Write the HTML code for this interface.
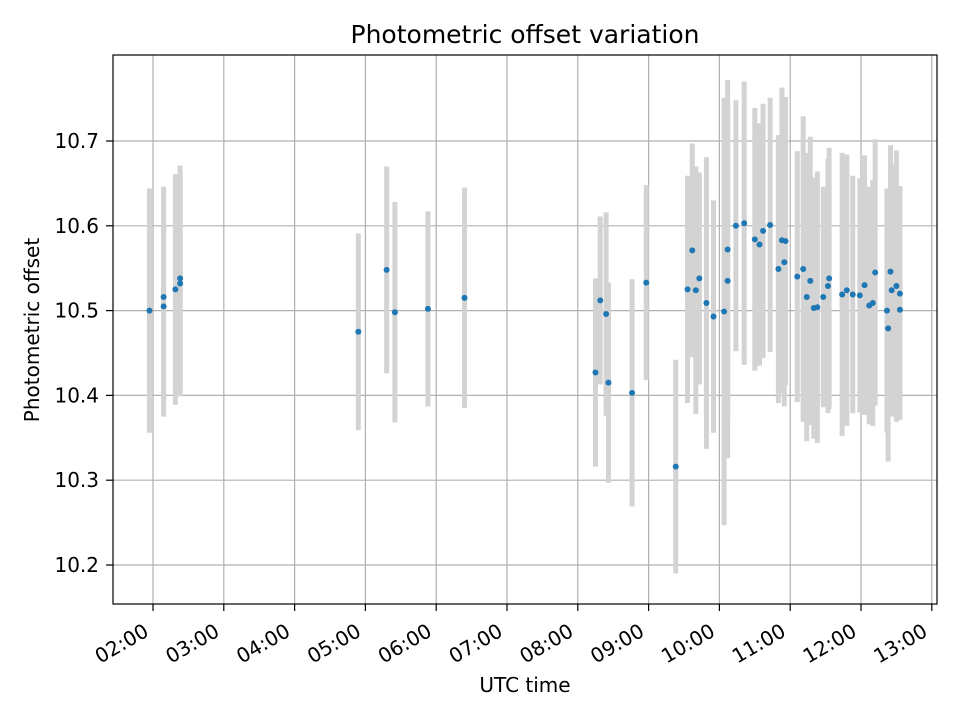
<!DOCTYPE html>
<html><head><meta charset="utf-8"><style>
body{margin:0;background:#fff;}
svg{font-family:"DejaVu Sans","Liberation Sans",sans-serif;}
</style></head><body>
<svg id="chart" width="960" height="720">
<rect width="960" height="720" fill="#fff"/>
<g id="grid"></g><g id="bars"></g><g id="pts"></g><g id="axes"></g>
<text x="525" y="43" text-anchor="middle" font-size="25">Photometric offset variation</text>
<text x="525" y="692" text-anchor="middle" font-size="20">UTC time</text>
<text transform="translate(39,330) rotate(-90)" text-anchor="middle" font-size="20">Photometric offset</text>
</svg>
<script>
const times=["01:57","02:09","02:09","02:19","02:23","02:23","04:54","05:18","05:25","05:53","06:24","08:15","08:19","08:24","08:26","08:46","08:58","09:23","09:33","09:37","09:40","09:43","09:49","09:55","10:04","10:07","10:07","10:14","10:21","10:30","10:34","10:37","10:43","10:50","10:53","10:55","10:56","11:06","11:11","11:14","11:17","11:20","11:23","11:28","11:32","11:33","11:44","11:48","11:53","11:59","12:03","12:07","12:10","12:12","12:22","12:23","12:25","12:26","12:30","12:33","12:33"];
const values=[10.500,10.516,10.505,10.525,10.538,10.532,10.475,10.548,10.498,10.502,10.515,10.427,10.512,10.496,10.415,10.403,10.533,10.316,10.525,10.571,10.524,10.538,10.509,10.493,10.499,10.535,10.572,10.600,10.603,10.584,10.578,10.594,10.601,10.549,10.583,10.557,10.582,10.540,10.549,10.516,10.535,10.503,10.504,10.516,10.529,10.538,10.519,10.524,10.519,10.518,10.530,10.506,10.509,10.545,10.500,10.479,10.546,10.524,10.529,10.520,10.501];
const errors=[0.144,0.13,0.13,0.136,0.133,0.133,0.116,0.122,0.13,0.115,0.13,0.111,0.099,0.12,0.118,0.134,0.115,0.126,0.134,0.126,0.146,0.125,0.172,0.137,0.252,0.209,0.2,0.148,0.167,0.155,0.143,0.15,0.15,0.158,0.18,0.17,0.17,0.148,0.18,0.17,0.17,0.154,0.16,0.13,0.15,0.154,0.167,0.16,0.14,0.138,0.153,0.14,0.145,0.157,0.144,0.157,0.149,0.149,0.16,0.127,0.13];
const xTicks=["02:00","03:00","04:00","05:00","06:00","07:00","08:00","09:00","10:00","11:00","12:00","13:00"];
const yTicks=[10.2,10.3,10.4,10.5,10.6,10.7];
const L=113,R=937,T=55,B=604;
const toMin=s=>{const[a,b]=s.split(":").map(Number);return a*60+b;};
const X=m=>153+(m-120)*(70.8/60);
const Y=v=>141+(10.7-v)*848;
const NS="http://www.w3.org/2000/svg";
function mk(tag,attrs,parent){const e=document.createElementNS(NS,tag);for(const k in attrs)e.setAttribute(k,attrs[k]);document.getElementById(parent).appendChild(e);return e;}
xTicks.forEach(t=>{const x=X(toMin(t));
 const g=mk("line",{x1:x,x2:x,y1:T,y2:B,stroke:"#b0b0b0","stroke-width":1.2},"grid");
 
 
 const tk=mk("line",{x1:x,x2:x,y1:B,y2:B+7,stroke:"#000","stroke-width":1.2},"axes");
 
 
 const lx=x-3,ly=B+31;
 const lb=mk("text",{x:lx,y:ly,"text-anchor":"end","font-size":20,transform:`rotate(-30 ${lx} ${ly})`},"axes");
 lb.textContent=t;
 
 
});
yTicks.forEach(v=>{const y=Y(v);
 const g=mk("line",{x1:L,x2:R,y1:y,y2:y,stroke:"#b0b0b0","stroke-width":1.2},"grid");
 
 
 const tk=mk("line",{x1:L-7,x2:L,y1:y,y2:y,stroke:"#000","stroke-width":1.2},"axes");
 
 
 const lb=mk("text",{x:L-14,y:y+7,"text-anchor":"end","font-size":20},"axes");
 lb.textContent=v.toFixed(1);
 
 
});
times.forEach((t,i)=>{const x=X(toMin(t)),v=values[i],e=errors[i];
 const b=mk("line",{x1:x,x2:x,y1:Y(v+e),y2:Y(v-e),stroke:"#d3d3d3","stroke-width":5},"bars");
 
 
 const p=mk("circle",{cx:x,cy:Y(v),r:3,fill:"#1f77b4"},"pts");
 
 
});
const f=mk("rect",{x:L,y:T,width:R-L,height:B-T,fill:"none",stroke:"#000","stroke-width":1.2},"axes");


</script>
</body></html>
